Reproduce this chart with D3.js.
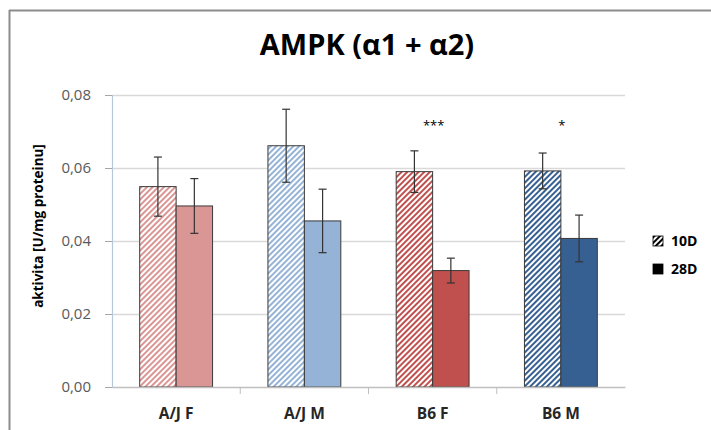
<!DOCTYPE html>
<html>
<head>
<meta charset="utf-8">
<script src="https://cdn.jsdelivr.net/npm/d3@7"></script>
<style>
  body { margin: 0; background: #fff; }
  svg { display: block; }
</style>
</head>
<body>
<svg id="chart" width="711" height="430"></svg>
<script>
// Groups along the x axis
const categories = ["A/J F", "A/J M", "B6 F", "B6 M"];
// Series: 10 days (hatched) and 28 days (solid)
const seriesNames = ["10D", "28D"];
const values10D = [0.0549, 0.0661, 0.0590, 0.0592];
const errors10D = [0.0081, 0.0100, 0.0057, 0.0049];
const values28D = [0.0496, 0.0455, 0.0319, 0.0407];
const errors28D = [0.0075, 0.0087, 0.0034, 0.0064];
// Colour per group
const groupColors = ["#d99694", "#95b3d7", "#c0504d", "#376092"];
// Significance marks above groups
const significance = ["", "", "***", "*"];
// Y axis ticks
const yTicks = [0, 0.02, 0.04, 0.06, 0.08];

const svg = d3.select("#chart");
const font = "'Open Sans', 'Noto Sans', sans-serif";

// Outer frame edges
svg.append("line").attr("x1", 9.5).attr("x2", 9.5).attr("y1", 10).attr("y2", 430)
  .attr("stroke", "#8c8c8c").attr("stroke-width", 2);
svg.append("line").attr("x1", 9).attr("x2", 711).attr("y1", 10.5).attr("y2", 10.5)
  .attr("stroke", "#8c8c8c").attr("stroke-width", 2);

const plot = { left: 112, right: 625, top: 95, bottom: 387 };

const x = d3.scaleBand().domain(categories).range([plot.left, plot.right]).paddingInner(0).paddingOuter(0);
const y = d3.scaleLinear().domain([0, 0.08]).range([plot.bottom, plot.top]);
const sub = d3.scaleBand().domain(seriesNames).range([0, x.bandwidth()]).paddingInner(0).paddingOuter(0.76);

// Hatch patterns, one per group colour
const defs = svg.append("defs");
groupColors.forEach((c, i) => {
  const p = defs.append("pattern")
    .attr("id", "hatch" + i)
    .attr("patternUnits", "userSpaceOnUse")
    .attr("width", 4).attr("height", 4)
    .attr("patternTransform", "rotate(45)");
  p.append("rect").attr("width", 4).attr("height", 4).attr("fill", "#fff");
  p.append("rect").attr("x", 0).attr("width", 2).attr("height", 4).attr("fill", c);
});
const legendHatch = defs.append("pattern")
  .attr("id", "hatchLegend")
  .attr("patternUnits", "userSpaceOnUse")
  .attr("width", 4).attr("height", 4)
  .attr("patternTransform", "rotate(45)");
legendHatch.append("rect").attr("width", 4).attr("height", 4).attr("fill", "#fff");
legendHatch.append("rect").attr("width", 2).attr("height", 4).attr("fill", "#000");

// Gridlines
svg.append("g").selectAll("line").data(yTicks.filter(t => t > 0)).join("line")
  .attr("x1", plot.left).attr("x2", plot.right)
  .attr("y1", d => Math.round(y(d)) + 0.5).attr("y2", d => Math.round(y(d)) + 0.5)
  .attr("stroke", "#d9d9d9").attr("stroke-width", 1.5);

// Y axis
const yAxis = svg.append("g").attr("transform", `translate(${plot.left},0)`)
  .call(d3.axisLeft(y).tickValues(yTicks).tickSize(7).tickPadding(14)
    .tickFormat(d => d3.format(".2f")(d).replace(".", ",")));
yAxis.select(".domain").attr("stroke", "#b8c6dc").attr("stroke-width", 1.2);
yAxis.selectAll(".tick line").attr("stroke", "#a6a6a6");
yAxis.selectAll(".tick text").attr("fill", "#595959").attr("font-family", font)
  .attr("font-size", 15);

// Bars
const groups = svg.append("g").selectAll("g").data(categories).join("g")
  .attr("transform", d => `translate(${x(d)},0)`);

const barData = (c, i) => [
  { s: "10D", v: values10D[i], e: errors10D[i], fill: `url(#hatch${i})` },
  { s: "28D", v: values28D[i], e: errors28D[i], fill: groupColors[i] }
];

groups.each(function (c, i) {
  const g = d3.select(this);
  const data = barData(c, i);
  g.selectAll("rect.bar").data(data).join("rect").attr("class", "bar")
    .attr("x", d => sub(d.s)).attr("width", sub.bandwidth())
    .attr("y", d => y(d.v)).attr("height", d => y(0) - y(d.v))
    .attr("fill", d => d.fill)
    .attr("stroke", "#3a3a3a").attr("stroke-width", 1);
  // Error bars
  const eb = g.selectAll("g.err").data(data).join("g").attr("class", "err")
    .attr("transform", d => `translate(${sub(d.s) + sub.bandwidth() / 2},0)`);
  eb.append("line").attr("y1", d => y(d.v + d.e)).attr("y2", d => y(d.v - d.e))
    .attr("stroke", "#333").attr("stroke-width", 1.2);
  eb.append("line").attr("x1", -4).attr("x2", 4).attr("y1", d => y(d.v + d.e)).attr("y2", d => y(d.v + d.e))
    .attr("stroke", "#333").attr("stroke-width", 1.2);
  eb.append("line").attr("x1", -4).attr("x2", 4).attr("y1", d => y(d.v - d.e)).attr("y2", d => y(d.v - d.e))
    .attr("stroke", "#333").attr("stroke-width", 1.2);
  // Significance
  if (significance[i]) {
    g.append("text").attr("x", x.bandwidth() / 2 + 1).attr("y", y(0.0703))
      .attr("text-anchor", "middle").attr("font-family", font).attr("font-size", 13)
      .attr("fill", "#000").text(significance[i]);
  }
});

// X axis
const xAxis = svg.append("g").attr("transform", `translate(0,${plot.bottom})`)
  .call(d3.axisBottom(x).tickSize(0).tickPadding(21));
xAxis.select(".domain").attr("stroke", "#bfbfbf").attr("stroke-width", 1.5);
xAxis.selectAll(".tick text").attr("fill", "#262626").attr("font-family", font)
  .attr("font-size", 15.5).attr("font-weight", "bold");
// Category separators
svg.append("g").selectAll("line").data(categories.slice(1)).join("line")
  .attr("x1", d => x(d)).attr("x2", d => x(d))
  .attr("y1", plot.bottom).attr("y2", plot.bottom + 7)
  .attr("stroke", "#bfbfbf").attr("stroke-width", 1);

// Title
svg.append("text").attr("x", 367).attr("y", 55).attr("text-anchor", "middle")
  .attr("font-family", font).attr("font-weight", "bold").attr("font-size", 29)
  .attr("fill", "#000").text("AMPK (α1 + α2)");

// Y axis title
svg.append("text").attr("transform", "translate(43,226) rotate(-90)")
  .attr("text-anchor", "middle").attr("font-family", font).attr("font-weight", "bold")
  .attr("font-size", 13.5).attr("fill", "#000").text("aktivita [U/mg proteinu]");

// Legend
const legend = svg.append("g").attr("transform", "translate(653,236)");
const legendItems = [
  { name: seriesNames[0], fill: "url(#hatchLegend)" },
  { name: seriesNames[1], fill: "#000" }
];
legend.selectAll("g").data(legendItems).join("g")
  .attr("transform", (d, i) => `translate(0,${i * 28})`)
  .each(function (d) {
    const g = d3.select(this);
    g.append("rect").attr("width", 10).attr("height", 10).attr("fill", d.fill)
      .attr("stroke", "#000").attr("stroke-width", 0.8);
    g.append("text").attr("x", 18).attr("y", 10).attr("font-family", font)
      .attr("font-weight", "bold").attr("font-size", 14).attr("fill", "#000").text(d.name);
  });
</script>
</body>
</html>
